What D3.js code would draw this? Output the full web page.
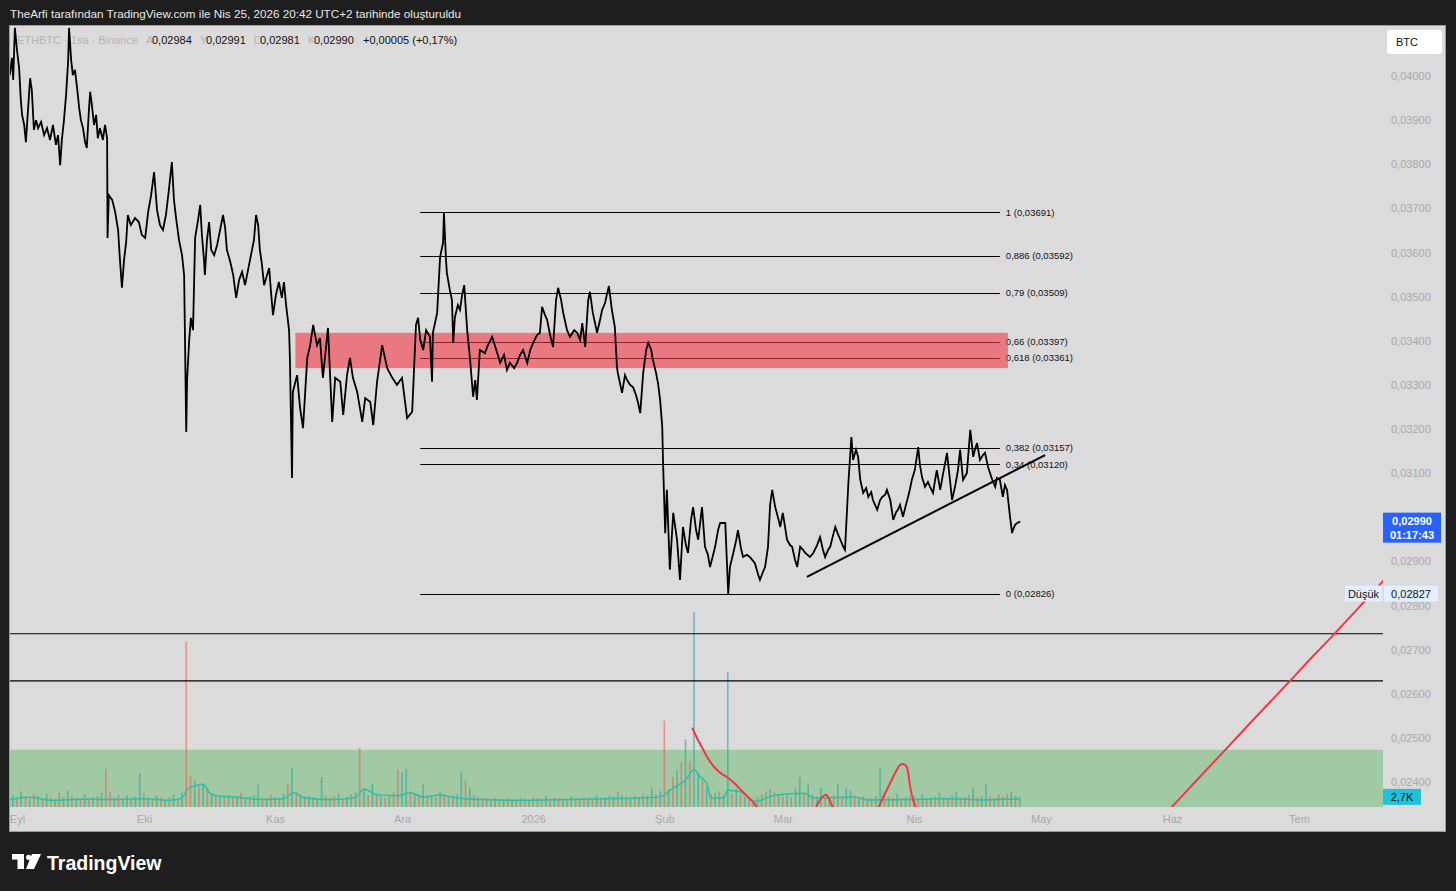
<!DOCTYPE html>
<html>
<head>
<meta charset="utf-8">
<script src="https://cdn.jsdelivr.net/npm/d3@7"></script>
<style>
  html, body { margin: 0; padding: 0; background: #1e1e1e; }
  svg { display: block; font-family: "Liberation Sans", Arial, sans-serif; }
</style>
</head>
<body>
<svg id="chart" width="1456" height="891"></svg>
<script>
// ---- data (days counted from 1 Sep 2025, prices in BTC) ----
const priceDay = [
  -1.7, -1.2, -0.9, -0.5, 0, 0.5, 0.9, 1.2, 1.7, 2.1,
  2.6, 3.1, 3.5, 4.0, 4.5, 5.0, 5.7, 6.4, 7.1, 7.8,
  8.5, 9.2, 9.7, 10.2, 10.6, 11.1, 11.6, 12.1, 12.3, 12.8,
  13.2, 13.7, 14.2, 14.7, 15.1, 15.6, 16.1, 16.5, 17.0, 17.3,
  17.7, 18.2, 18.7, 19.1, 19.6, 20.3, 20.8, 21.3, 21.4, 21.7,
  22.5, 23.2, 23.9, 24.3, 24.8, 25.3, 25.8, 26.2, 26.9, 27.9,
  28.8, 29.5, 30.3, 31.0, 31.7, 32.4, 33.1, 33.8, 34.5, 35.2,
  35.9, 36.6, 37.1, 37.6, 38.3, 39.0, 39.5, 40.0, 40.2, 40.7,
  41.1, 41.6, 42.1, 42.8, 43.3, 43.7, 44.2, 44.4, 44.9, 45.4,
  45.9, 46.6, 47.3, 48.0, 48.7, 49.2, 49.6, 50.4, 51.1, 51.8,
  52.5, 53.2, 53.9, 54.6, 55.3, 56.0, 56.5, 57.0, 57.4, 57.9,
  58.4, 59.1, 59.6, 60.0, 60.5, 61.2, 61.9, 62.6, 63.1, 63.6,
  64.3, 64.5, 65.0, 65.2, 66.2, 66.9, 67.6, 68.6, 69.3, 70.0,
  70.9, 71.6, 72.3, 73.5, 74.5, 75.2, 76.4, 77.1, 78.0, 78.7,
  79.4, 80.4, 81.6, 82.3, 83.5, 84.2, 85.1, 86.3, 87.5, 88.7,
  89.8, 91.0, 92.2, 93.4, 94.3, 94.8,
  95.3, 96.0, 96.7, 97.6,
  98.1, 98.3, 99.3, 100.0, 100.7, 100.9, 101.4, 101.6, 102.3, 102.8,
  103.1, 103.5, 104.2, 104.7, 105.2, 105.7, 106.4, 107.1, 107.8, 108.3,
  108.7, 109.4, 110.6, 111.3, 112.3, 113.5, 114.2, 115.1, 115.8, 116.5,
  117.5, 118.2, 118.9, 119.6, 120.6, 121.3, 122.0, 122.9, 123.6, 124.1,
  124.8, 125.3, 126.0, 126.7, 127.4, 127.9, 128.6, 129.1, 130.0, 130.7,
  131.7, 132.4, 133.1, 133.6, 134.3, 135.0, 135.4, 136.1, 137.1, 137.8,
  138.3, 139.0, 139.4, 139.9, 140.6, 141.3, 141.8, 142.0, 143.0, 143.7,
  144.2, 144.9, 145.6, 146.3, 146.8, 147.3, 148.0, 148.7, 149.2, 149.9,
  150.3, 151.0, 151.5, 152.0, 152.5, 152.7, 153.2, 153.6, 154.3, 155.1,
  156.0, 156.7, 157.4, 158.1, 158.6, 159.3, 159.8, 160.5, 161.0, 161.9,
  162.6, 163.3, 163.8, 165.0, 165.7, 166.2, 167.4, 168.1, 168.5, 169.3,
  170.0, 170.4, 171.1, 171.6, 172.5, 173.2, 174.4, 175.2, 175.6, 176.3,
  176.8, 177.5, 178.0, 178.5, 179.2, 179.9, 180.4, 181.0, 182.0, 182.7,
  183.2, 183.9, 184.4, 185.1, 185.8, 186.3, 187.4, 188.2, 189.1, 189.8,
  190.5, 191.0, 191.7, 192.2, 192.9, 193.4, 194.1, 194.6, 195.3, 195.7,
  196.5, 197.2, 197.6, 198.3, 198.8, 199.3, 200.0, 200.7, 201.2, 201.9,
  202.3, 203.3, 204.0, 204.5, 205.2, 205.6, 206.4, 207.1, 207.8, 208.2,
  208.7, 209.4, 210.1, 210.6, 211.1, 211.5, 212.2, 213.0, 213.4, 213.9,
  214.6, 215.3, 215.8, 216.5, 217.0, 217.4, 218.2, 218.9, 219.3, 219.8,
  220.5, 221.0, 221.7, 222.4, 222.9, 223.6, 224.5, 225.3, 225.7, 226.0,
  226.4, 226.9, 227.6, 228.3, 228.8, 229.5, 230.5, 231.2, 231.6, 232.3,
  233.0, 233.5, 234.0, 234.7, 235.2, 235.4, 235.9, 236.4, 237.1
];
const priceValue = [
  0.04002, 0.04041, 0.03991, 0.04109, 0.04059, 0.04018, 0.03946, 0.03912, 0.03889, 0.03850,
  0.03923, 0.03995, 0.03968, 0.03878, 0.03900, 0.03882, 0.03896, 0.03866, 0.03882, 0.03855,
  0.03889, 0.03844, 0.03866, 0.03798, 0.03855, 0.03900, 0.03957, 0.04036, 0.04109, 0.04036,
  0.04002, 0.04014, 0.03973, 0.03927, 0.03900, 0.03882, 0.03850, 0.03837, 0.03923, 0.03964,
  0.03934, 0.03889, 0.03912, 0.03859, 0.03882, 0.03855, 0.03889, 0.03859, 0.03633, 0.03730,
  0.03719, 0.03692, 0.03651, 0.03588, 0.03520, 0.03583, 0.03624, 0.03685, 0.03662, 0.03678,
  0.03669, 0.03640, 0.03633, 0.03692, 0.03730, 0.03782, 0.03696, 0.03662, 0.03651, 0.03685,
  0.03742, 0.03805, 0.03719, 0.03678, 0.03628, 0.03594, 0.03549, 0.03193, 0.03311, 0.03402,
  0.03452, 0.03424, 0.03633, 0.03674, 0.03708, 0.03640, 0.03583, 0.03549, 0.03628, 0.03669,
  0.03606, 0.03594, 0.03617, 0.03651, 0.03685, 0.03656, 0.03606, 0.03579, 0.03549, 0.03497,
  0.03538, 0.03556, 0.03526, 0.03560, 0.03594, 0.03628, 0.03685, 0.03662, 0.03606, 0.03572,
  0.03526, 0.03549, 0.03565, 0.03515, 0.03458, 0.03504, 0.03533, 0.03497, 0.03533, 0.03481,
  0.03424, 0.03361, 0.03089, 0.03284, 0.03322, 0.03248, 0.03202, 0.03361, 0.03390, 0.03436,
  0.03390, 0.03406, 0.03316, 0.03429, 0.03216, 0.03316, 0.03307, 0.03232, 0.03322, 0.03361,
  0.03316, 0.03284, 0.03216, 0.03270, 0.03261, 0.03209, 0.03307, 0.03390, 0.03338, 0.03316,
  0.03300, 0.03316, 0.03225, 0.03239, 0.03436, 0.03452,
  0.03402, 0.03379, 0.03424, 0.03409,
  0.03307, 0.03418, 0.03463, 0.03590, 0.03622, 0.03691, 0.03583, 0.03554, 0.03515, 0.03492,
  0.03395, 0.03454, 0.03481, 0.03470, 0.03504, 0.03526, 0.03424, 0.03356, 0.03273, 0.03311,
  0.03266, 0.03379, 0.03372, 0.03390, 0.03409, 0.03372, 0.03350, 0.03368, 0.03334, 0.03350,
  0.03338, 0.03350, 0.03368, 0.03379, 0.03350, 0.03379, 0.03395, 0.03413, 0.03418, 0.03477,
  0.03458, 0.03447, 0.03413, 0.03386, 0.03492, 0.03520, 0.03492, 0.03463, 0.03424, 0.03409,
  0.03424, 0.03418, 0.03402, 0.03440, 0.03386, 0.03492, 0.03511, 0.03463, 0.03418, 0.03447,
  0.03470, 0.03486, 0.03504, 0.03524, 0.03470, 0.03431, 0.03341, 0.03327, 0.03282, 0.03322,
  0.03311, 0.03300, 0.03295, 0.03277, 0.03259, 0.03236, 0.03327, 0.03379, 0.03395, 0.03379,
  0.03356, 0.03329, 0.03304, 0.03266, 0.03205, 0.03123, 0.02964, 0.03062, 0.02881, 0.03010,
  0.02949, 0.02858, 0.02978, 0.02937, 0.02919, 0.02994, 0.03023, 0.02971, 0.02949, 0.03023,
  0.02933, 0.02915, 0.02887, 0.02933, 0.02971, 0.02987, 0.02987, 0.02826, 0.02887, 0.02919,
  0.02949, 0.02971, 0.02930, 0.02910, 0.02915, 0.02910, 0.02896, 0.02869, 0.02858, 0.02876,
  0.02887, 0.02933, 0.03028, 0.03062, 0.03023, 0.02998, 0.02978, 0.03010, 0.02949, 0.02937,
  0.02933, 0.02903, 0.02887, 0.02933, 0.02926, 0.02919, 0.02910, 0.02919, 0.02937, 0.02955,
  0.02926, 0.02910, 0.02926, 0.02933, 0.02960, 0.02978, 0.02960, 0.02949, 0.02933, 0.02926,
  0.03078, 0.03182, 0.03130, 0.03153, 0.03137, 0.03085, 0.03055, 0.03066, 0.03046, 0.03057,
  0.03039, 0.03017, 0.03039, 0.03046, 0.03051, 0.03062, 0.03039, 0.02994, 0.03012, 0.03017,
  0.03028, 0.03001, 0.03028, 0.03046, 0.03066, 0.03085, 0.03107, 0.03159, 0.03119, 0.03091,
  0.03069, 0.03080, 0.03069, 0.03055, 0.03085, 0.03107, 0.03062, 0.03100, 0.03119, 0.03146,
  0.03085, 0.03039, 0.03069, 0.03107, 0.03153, 0.03085, 0.03100, 0.03198, 0.03164, 0.03137,
  0.03153, 0.03168, 0.03130, 0.03141, 0.03146, 0.03114, 0.03085, 0.03069, 0.03089, 0.03085,
  0.03046, 0.03073, 0.03062, 0.03001, 0.02964, 0.02971, 0.02983, 0.02987, 0.02990
];

// Fibonacci retracement (from the 0,02826 low to the 0,03691 high)
const fibRatio = ["1", "0,886", "0,79", "0,66", "0,618", "0,382", "0,34", "0"];
const fibPrice = [0.03691, 0.03592, 0.03509, 0.03397, 0.03361, 0.03157, 0.03120, 0.02826];
const fibDays = [95.3, 232.3];

// red supply zone, green zone, horizontal lines, trend line
const redZoneDays = [65.8, 234.2];
const redZonePrice = [0.03338, 0.03418];
const greenZoneTop = 0.02473;
const hLinePrice = [0.02736, 0.02629];
const trendDay = [186.7, 243.0];
const trendPrice = [0.02865, 0.03141];

// red indicator curve (null = below the pane)
const redDay = [159.6, 160.8, 162.2, 163.4, 164.8, 166.2, 168.1, 169.7, 171.1, 172.8, 174.5, 175.6, null,
  188.6, 189.4, 190.3, 191.2, 191.9, 192.7, 193.1, null,
  203.1, 203.8, 205.0, 206.4, 207.8, 208.7, 209.4, 210.2, 210.6, 211.1, 211.8, 212.3, 212.5, null,
  272.0, 273.0, 279.6, 284.8, 292.2, 300.2, 306.4, 311.1, 317.5, 322.9, 325.0];
const redPrice = [0.02523, 0.02498, 0.02473, 0.02452, 0.02434, 0.02421, 0.02409, 0.02396, 0.02382, 0.02366, 0.02348, 0.02332, null,
  0.02337, 0.02353, 0.02366, 0.02371, 0.02362, 0.02344, 0.02332, null,
  0.02332, 0.02346, 0.02371, 0.02398, 0.02425, 0.02439, 0.02441, 0.02436, 0.02423, 0.02389, 0.02359, 0.02344, 0.02332, null,
  0.02334, 0.02344, 0.02412, 0.02465, 0.02541, 0.02622, 0.02686, 0.02733, 0.02799, 0.02856, 0.02880];

// volume, thousands of ETH per day from day -1; negative = down bar
const volumeK = [
  3.1, -2.4, 4.2, -2.8, 2.2, -3.5, 2.9, -1.8, 3.6, -2.5,
  2.1, -3.8, 2.6, 4.4, -3.0, 2.4, -2.2, 3.3, -2.0, 2.7,
  -2.9, 3.8, -10.2, -4.1, 2.5, -3.2, 2.2, 3.0, -2.4, 2.8,
  9.0, -3.6, 2.6, -2.3, 3.1, -2.7, 2.0, -2.6, 3.4, -2.1,
  3.9, -44.0, -8.2, 7.0, -5.5, 6.0, -4.4, 3.6, -3.2, 2.8,
  -2.6, 3.2, -2.4, 2.9, -3.8, 2.2, -2.9, 3.0, 6.1, -2.5,
  2.4, -3.3, 2.7, -2.2, 3.5, -6.2, 10.4, -4.0, 3.3, -2.8,
  3.0, -2.6, 2.4, 8.0, -3.1, 2.5, -2.9, 3.6, -2.3, 2.8,
  -3.4, 3.9, -15.8, 4.6, -3.2, 6.1, -3.6, 2.9, -2.5, 3.3,
  -3.9, -10.0, 9.2, 10.1, -4.2, 3.5, -2.8, 6.0, -3.4, 3.0,
  -2.6, 4.1, -3.5, 2.9, -3.1, 3.4, 9.3, -7.0, 5.2, -3.3,
  2.7, -2.4, 2.2, -1.9, 2.5, -2.1, 1.8, -2.3, 2.0, -1.7,
  2.3, -2.0, 1.9, -2.6, 2.4, -2.2, 3.0, -2.1, 2.6, -2.4,
  2.2, -1.9, 2.8, -2.3, 2.1, -2.7, 2.5, -2.0, 3.1, -2.4,
  2.6, -3.2, 2.9, -4.0, 3.3, -2.8, 2.4, -3.1, 2.7, -3.6,
  3.0, 5.0, -3.4, 4.2, -23.0, 4.8, -8.0, 10.0, -12.0, 18.0,
  -12.3, 52.0, 9.0, -7.0, 5.2, -3.5, 3.8, -4.2, 3.0, 36.0,
  -3.6, 5.0, -3.2, 2.6, -2.4, 2.0, -2.7, 3.4, -4.2, 4.6,
  -3.9, 3.5, -2.8, 3.1, -2.6, 5.0, 8.0, -3.7, 6.0, -3.2,
  2.9, 5.1, -2.7, 2.4, -3.0, 6.2, -2.5, 5.0, 4.4, -3.1,
  2.6, -2.9, 2.3, -2.5, 3.0, 10.4, -3.4, 2.8, -2.4, 3.5,
  -2.2, 2.6, -3.0, 2.9, -2.4, 3.3, -2.1, 2.5, -2.8, 3.8,
  -2.6, 2.4, -3.1, 4.1, -2.5, 2.7, -3.2, 5.1, -2.6, 3.0,
  6.0, -2.8, 2.5, -3.4, 2.9, -3.6, 4.0, -3.1, 2.7
];
const volumeFirstDay = -1;

// volume moving average
const maDay = [-1.7, 3, 8, 15, 22, 30, 36, 39, 40.5, 42, 44, 45.5, 47, 52, 58, 63, 65.5, 68, 74, 80, 82, 85, 90, 93, 96,
  100, 104, 110, 120, 130, 140, 147, 152, 155, 158, 160, 161.5, 163, 164, 167, 168, 171, 174.5, 177.8, 179.5,
  186, 188.5, 198, 201, 210, 220, 228, 237];
const maVolK = [2.0, 2.6, 1.8, 2.1, 2.0, 2.2, 1.8, 2.4, 5.0, 5.6, 6.1, 3.8, 3.0, 2.6, 2.0, 2.2, 3.8, 2.4, 2.0, 2.5, 4.8, 3.3, 3.0, 3.8, 2.6,
  3.2, 2.4, 2.0, 1.8, 2.0, 2.2, 2.4, 2.7, 5.0, 7.2, 10.0, 8.0, 6.4, 2.4, 2.4, 4.5, 4.0, 1.5, 2.7, 3.2,
  3.7, 2.4, 2.7, 1.9, 2.0, 2.2, 1.9, 2.2];

// axes (0,03000 sits under the last-price tag, so it is not listed)
const priceTicks = [0.024, 0.025, 0.026, 0.027, 0.028, 0.029, 0.031, 0.032, 0.033, 0.034, 0.035, 0.036, 0.037, 0.038, 0.039, 0.040];
const monthTicks = ["2025-09-01", "2025-10-01", "2025-11-01", "2025-12-01", "2026-01-01", "2026-02-01", "2026-03-01", "2026-04-01", "2026-05-01", "2026-06-01", "2026-07-01"];
const monthLabels = ["Eyl", "Eki", "Kas", "Ara", "2026", "Şub", "Mar", "Nis", "May", "Haz", "Tem"];

// legend values
const ohlcLetters = ["A", "Y", "D", "K"];
const ohlcValues = [0.02984, 0.02991, 0.02981, 0.02990];
const lastPrice = 0.02990;
const lowPrice = 0.02827;
const lastVolumeK = 2.7;

//******************************************************************************************** */
const T0 = Date.UTC(2025, 8, 1);
const dayToDate = (d) => new Date(T0 + d * 864e5);
const comma = (s) => s.replace(".", ",");
const fmtPrice = (v) => comma(d3.format(".5f")(v));

const plot = { left: 10, right: 1383, top: 26, bottom: 807 };

const svg = d3.select("#chart");

const x = d3.scaleUtc()
  .domain([new Date(monthTicks[0]), new Date(monthTicks[monthTicks.length - 1])])
  .range([17, 1299]);
const y = d3.scaleLinear().domain([0.024, 0.040]).range([782, 76]);
const yVol = d3.scaleLinear().domain([0, 52]).range([plot.bottom, 612]);

// header line
svg.append("text")
  .attr("x", 10).attr("y", 18)
  .attr("fill", "#e8e8e8")
  .style("font-size", "11.7px")
  .text("TheArfi tarafından TradingView.com ile Nis 25, 2026 20:42 UTC+2 tarihinde oluşturuldu");

// panel
svg.append("rect")
  .attr("x", 9.5).attr("y", 25.5)
  .attr("width", 1436).attr("height", 806)
  .attr("fill", "#dbdbdb")
  .attr("stroke", "#9c9c9c");

svg.append("defs").append("clipPath").attr("id", "plot-clip")
  .append("rect")
  .attr("x", plot.left).attr("y", plot.top)
  .attr("width", plot.right - plot.left).attr("height", plot.bottom - plot.top);

// symbol legend (drawn under the price line)
const legend = svg.append("g").style("font-size", "11px");
legend.append("text").attr("x", 17).attr("y", 44).attr("fill", "#b4b4b4").text("ETHBTC · 1sa · Binance");
const ohlcX = [146, 200, 254, 308];
ohlcLetters.forEach((l, i) => {
  legend.append("text").attr("x", ohlcX[i]).attr("y", 44).attr("fill", "#b4b4b4").text(l);
  legend.append("text").attr("x", ohlcX[i] + 6).attr("y", 44).attr("fill", "#111").text(fmtPrice(ohlcValues[i]));
});
legend.append("text").attr("x", 363).attr("y", 44).attr("fill", "#111").text("+0,00005 (+0,17%)");

const g = svg.append("g").attr("clip-path", "url(#plot-clip)");

// green zone
g.append("rect")
  .attr("x", plot.left).attr("y", y(greenZoneTop))
  .attr("width", plot.right - plot.left).attr("height", plot.bottom - y(greenZoneTop))
  .attr("fill", "rgba(76,175,80,0.4)");

// volume bars
g.append("g").selectAll("line")
  .data(volumeK)
  .join("line")
  .attr("x1", (d, i) => x(dayToDate(volumeFirstDay + i)))
  .attr("x2", (d, i) => x(dayToDate(volumeFirstDay + i)))
  .attr("y1", plot.bottom)
  .attr("y2", (d) => yVol(Math.abs(d)))
  .attr("stroke", (d) => d < 0 ? "rgba(239,83,80,0.55)" : "rgba(38,166,154,0.6)")
  .attr("stroke-width", 1.6);

// volume MA
g.append("path")
  .datum(maDay.map((d, i) => [d, maVolK[i]]))
  .attr("fill", "none")
  .attr("stroke", "#2bbfa6")
  .attr("stroke-width", 1.5)
  .attr("d", d3.line().curve(d3.curveMonotoneX)
    .x((d) => x(dayToDate(d[0])))
    .y((d) => yVol(d[1])));

// horizontal lines
g.selectAll(".hline")
  .data(hLinePrice)
  .join("line")
  .attr("x1", plot.left).attr("x2", plot.right)
  .attr("y1", (d) => y(d)).attr("y2", (d) => y(d))
  .attr("stroke", "#000").attr("stroke-width", 1.2);

// fib lines
g.selectAll(".fib")
  .data(fibPrice)
  .join("line")
  .attr("x1", x(dayToDate(fibDays[0])))
  .attr("x2", x(dayToDate(fibDays[1])))
  .attr("y1", (d) => Math.round(y(d)) + 0.5).attr("y2", (d) => Math.round(y(d)) + 0.5)
  .attr("stroke", "#000").attr("stroke-width", 1);

g.selectAll(".fib-label")
  .data(fibPrice)
  .join("text")
  .attr("x", x(dayToDate(fibDays[1])) + 6)
  .attr("y", (d) => y(d))
  .attr("dy", "0.35em")
  .attr("fill", "#111")
  .style("font-size", "9.5px")
  .text((d, i) => `${fibRatio[i]} (${fmtPrice(d)})`);

// red zone
g.append("rect")
  .attr("x", x(dayToDate(redZoneDays[0])))
  .attr("y", y(redZonePrice[1]))
  .attr("width", x(dayToDate(redZoneDays[1])) - x(dayToDate(redZoneDays[0])))
  .attr("height", y(redZonePrice[0]) - y(redZonePrice[1]))
  .attr("fill", "rgba(242,54,69,0.6)");

// price line
g.append("path")
  .datum(priceDay.map((d, i) => [d, priceValue[i]]))
  .attr("fill", "none")
  .attr("stroke", "#000")
  .attr("stroke-width", 1.8)
  .attr("stroke-linejoin", "miter")
  .attr("d", d3.line()
    .x((d) => x(dayToDate(d[0])))
    .y((d) => y(d[1])));

// trend line
g.append("line")
  .attr("x1", x(dayToDate(trendDay[0]))).attr("y1", y(trendPrice[0]))
  .attr("x2", x(dayToDate(trendDay[1]))).attr("y2", y(trendPrice[1]))
  .attr("stroke", "#000").attr("stroke-width", 2);

// red indicator curve
g.append("path")
  .datum(redDay.map((d, i) => [d, redPrice[i]]))
  .attr("fill", "none")
  .attr("stroke", "#f23645")
  .attr("stroke-width", 2)
  .attr("d", d3.line().defined((d) => d[0] !== null).curve(d3.curveMonotoneX)
    .x((d) => x(dayToDate(d[0])))
    .y((d) => y(d[1])));

// price axis
const yAxis = d3.axisRight(y).tickValues(priceTicks).tickSize(0).tickPadding(0).tickFormat(fmtPrice);
svg.append("g")
  .attr("transform", "translate(1391,0)")
  .call(yAxis)
  .call((a) => a.select(".domain").remove())
  .attr("font-family", null).attr("font-size", null)
  .selectAll("text").attr("fill", "#a8a8a8").style("font-size", "11px");

// time axis
const xAxis = d3.axisBottom(x)
  .tickValues(monthTicks.map((m) => new Date(m)))
  .tickSize(0).tickPadding(8)
  .tickFormat((d, i) => monthLabels[i]);
svg.append("g")
  .attr("transform", `translate(0,${plot.bottom})`)
  .call(xAxis)
  .call((a) => a.select(".domain").remove())
  .attr("font-family", null).attr("font-size", null)
  .selectAll("text").attr("fill", "#a8a8a8").style("font-size", "11px");

// BTC button
svg.append("rect").attr("x", 1387).attr("y", 30).attr("width", 55).attr("height", 24).attr("rx", 3).attr("fill", "#fff");
svg.append("text").attr("x", 1396).attr("y", 46).attr("fill", "#111").style("font-size", "11px").text("BTC");

// last price label
const yLast = y(lastPrice);
svg.append("rect").attr("x", 1383).attr("y", yLast - 9).attr("width", 58).attr("height", 30).attr("fill", "#2962ff");
svg.append("text").attr("x", 1412).attr("y", yLast + 3).attr("text-anchor", "middle").attr("fill", "#fff")
  .style("font-size", "11px").style("font-weight", "bold").text(fmtPrice(lastPrice));
svg.append("text").attr("x", 1412).attr("y", yLast + 17).attr("text-anchor", "middle").attr("fill", "#fff")
  .style("font-size", "11px").style("font-weight", "bold").text("01:17:43");

// low label
const yLow = y(lowPrice);
svg.append("rect").attr("x", 1345).attr("y", yLow - 8).attr("width", 37).attr("height", 16).attr("fill", "#e3effd");
svg.append("text").attr("x", 1363.5).attr("y", yLow + 4).attr("text-anchor", "middle").attr("fill", "#111").style("font-size", "11px").text("Düşük");
svg.append("rect").attr("x", 1384).attr("y", yLow - 8).attr("width", 54).attr("height", 16).attr("fill", "#e3effd");
svg.append("text").attr("x", 1411).attr("y", yLow + 4).attr("text-anchor", "middle").attr("fill", "#111").style("font-size", "11px").text(fmtPrice(lowPrice));

// volume label
const yV = yVol(lastVolumeK);
svg.append("rect").attr("x", 1383).attr("y", yV - 8).attr("width", 38).attr("height", 16).attr("fill", "#22c1da");
svg.append("text").attr("x", 1402).attr("y", yV + 4).attr("text-anchor", "middle").attr("fill", "#111").style("font-size", "11px")
  .text(comma(String(lastVolumeK)) + "K");

// TradingView logo
const logo = svg.append("g").attr("fill", "#fff");
logo.append("path").attr("d", "M12,854 H24 V869 H17.5 V859.5 H12 Z");
logo.append("circle").attr("cx", 28.6).attr("cy", 857.3).attr("r", 2.6);
logo.append("path").attr("d", "M32,854 H41 L34,869 H26 Z");
logo.append("text").attr("x", 47).attr("y", 870).style("font-size", "19.5px").style("font-weight", "bold").text("TradingView");
</script>
</body>
</html>
